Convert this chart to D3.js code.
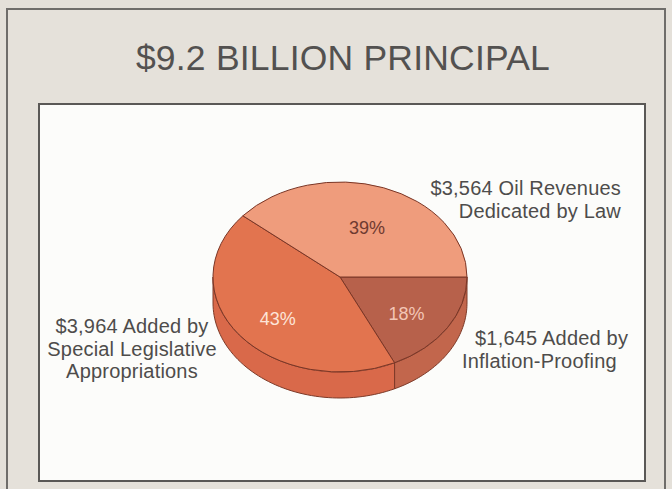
<!DOCTYPE html>
<html>
<head>
<meta charset="utf-8">
<script src="https://cdn.jsdelivr.net/npm/d3@7"></script>
<style>
  html, body { margin: 0; padding: 0; background: #e4e0d9; }
  svg { display: block; }
  text { font-family: "Liberation Sans", Arial, Helvetica, sans-serif; }
</style>
</head>
<body>
<svg id="chart" width="672" height="489"></svg>
<script>
// Fund principal by source (millions of dollars)
const title = "$9.2 BILLION PRINCIPAL";
const sources = ["Inflation-Proofing", "Special Legislative Appropriations", "Oil Revenues Dedicated by Law"];
const amounts = [1645, 3964, 3564];
const labelLines = [
  ["$1,645 Added by", "Inflation-Proofing"],
  ["$3,964 Added by", "Special Legislative", "Appropriations"],
  ["$3,564 Oil Revenues", "Dedicated by Law"]
];

// Slice styling
const topColors  = ["#b7614b", "#e2744f", "#ef9c7c"];
const sideColors = ["#c2664c", "#d9694a", "#e08a6a"];
const pctColors  = ["#f3c6b6", "#fde4d8", "#6e3a30"];

const svg = d3.select("#chart");
const W = 672, H = 489;

// Panels
svg.append("rect").attr("x", 0).attr("y", 0).attr("width", W).attr("height", H).attr("fill", "#e4e0d9");
svg.append("rect").attr("x", 7).attr("y", 9).attr("width", 658).attr("height", 500)
  .attr("fill", "#e5e1da").attr("stroke", "#6f6d6a").attr("stroke-width", 2);
svg.append("rect").attr("x", 39).attr("y", 104).attr("width", 606).attr("height", 377)
  .attr("fill", "#fcfcfa").attr("stroke", "#5a5856").attr("stroke-width", 2);

// Title
svg.append("text").attr("x", 343).attr("y", 70).attr("text-anchor", "middle")
  .attr("font-size", 35.5).attr("letter-spacing", 0.2).attr("fill", "#535150").text(title);

// Pie geometry
const cx = 340, cy = 277, rx = 127, ry = 95, depth = 26;
const total = d3.sum(amounts);
const pie = d3.pie().sort(null).startAngle(Math.PI / 2).endAngle(Math.PI / 2 + 2 * Math.PI);
const arcs = pie(amounts);

const pt = (a, r = rx, dy = 0) => [r * Math.sin(a), -(r * ry / rx) * Math.cos(a) + dy];

const g = svg.append("g").attr("transform", `translate(${cx},${cy})`);

// Side walls (front half only: angles between PI/2 and 3PI/2)
function sidePath(a0, a1) {
  const lo = Math.max(a0, Math.PI / 2), hi = Math.min(a1, 3 * Math.PI / 2);
  if (hi <= lo) return null;
  const n = 60;
  const angles = d3.range(n + 1).map(i => lo + (hi - lo) * i / n);
  const top = angles.map(a => pt(a));
  const bot = angles.slice().reverse().map(a => pt(a, rx, depth));
  return d3.line()(top.concat(bot)) + "Z";
}

arcs.forEach((d, i) => {
  const p = sidePath(d.startAngle, d.endAngle);
  if (p) {
    g.append("path").attr("d", p).attr("fill", sideColors[i])
      .attr("stroke", "#7d3a28").attr("stroke-width", 1).attr("stroke-linejoin", "round");
  }
});

// Top faces: circular arcs squashed into an ellipse
const topG = g.append("g").attr("transform", `scale(1,${ry / rx})`);
const arc = d3.arc().innerRadius(0).outerRadius(rx);
topG.selectAll("path.top").data(arcs).join("path")
  .attr("class", "top")
  .attr("d", arc)
  .attr("fill", (d, i) => topColors[i])
  .attr("stroke", "#7a3626")
  .attr("stroke-width", 1)
  .attr("vector-effect", "non-scaling-stroke")
  .attr("stroke-linejoin", "round");

// Percentage labels on the top faces
arcs.forEach((d, i) => {
  const mid = (d.startAngle + d.endAngle) / 2;
  const [x, y] = pt(mid, rx * 0.62, 6);
  g.append("text").attr("x", x).attr("y", y + 6).attr("text-anchor", "middle")
    .attr("font-size", 18).attr("fill", pctColors[i])
    .text(Math.round(d.value / total * 100) + "%");
});

// Source labels
const lineH = 22.5;
const labelSpecs = [
  { x: [475, 462], y: 345, anchor: "start" },
  { x: [132, 132, 132], y: 333, anchor: "middle" },
  { x: [621, 621], y: 195, anchor: "end" }
];
labelLines.forEach((lines, i) => {
  const s = labelSpecs[i];
  const t = svg.append("text").attr("font-size", 20).attr("letter-spacing", 0.2)
    .attr("fill", "#4e4c4b").attr("text-anchor", s.anchor);
  lines.forEach((ln, j) => {
    t.append("tspan").attr("x", s.x[j]).attr("y", s.y + j * lineH).text(ln);
  });
});
</script>
</body>
</html>
